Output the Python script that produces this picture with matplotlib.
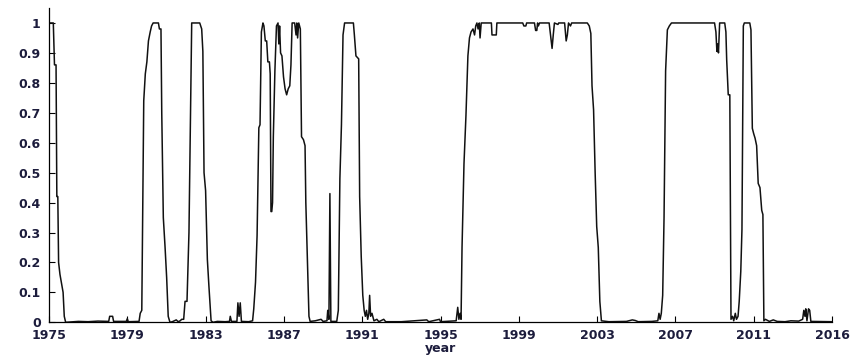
import numpy as np
import matplotlib
matplotlib.use('Agg')
import matplotlib.pyplot as plt

# regime probability, split by period (decimal year, value)
yr_a = [1975.00, 1975.22, 1975.28, 1975.36, 1975.40, 1975.45, 1975.49, 1975.56, 1975.64,
        1975.72, 1975.78, 1975.85, 1976.50, 1977.00, 1977.50, 1978.05, 1978.10, 1978.25,
        1978.30, 1978.95, 1979.00, 1979.05, 1979.60]
pr_a = [1.0, 1.0, 0.86, 0.86, 0.42, 0.42, 0.20, 0.16, 0.13,
        0.10, 0.02, 0.0, 0.003, 0.002, 0.004, 0.003, 0.02, 0.02,
        0.003, 0.003, 0.012, 0.002, 0.003]

yr_b = [1979.66, 1979.74, 1979.79, 1979.84, 1979.92, 1980.00, 1980.08, 1980.17, 1980.24,
        1980.32, 1980.59, 1980.64, 1980.72, 1980.76, 1980.84, 1980.93, 1981.01, 1981.09,
        1981.18, 1981.30, 1981.50, 1981.60, 1981.70, 1981.78, 1981.88, 1981.95, 1982.05,
        1982.15, 1982.29, 1982.70, 1982.80, 1982.86, 1982.92, 1983.00, 1983.09, 1983.17,
        1983.28, 1983.38]
pr_b = [0.03, 0.04, 0.39, 0.74, 0.83, 0.87, 0.94, 0.97, 0.99,
        1.0, 1.0, 0.98, 0.98, 0.70, 0.35, 0.25, 0.15, 0.02,
        0.0, 0.002, 0.008, 0.002, 0.005, 0.01, 0.01, 0.07, 0.07,
        0.30, 1.0, 1.0, 0.98, 0.905, 0.50, 0.44, 0.21, 0.12,
        0.005, 0.0]

yr_c = [1983.60, 1984.00, 1984.22, 1984.26, 1984.32, 1984.60, 1984.65, 1984.71, 1984.77,
        1984.83, 1985.20, 1985.40, 1985.46, 1985.55, 1985.63, 1985.72, 1985.78, 1985.85,
        1985.93, 1985.98, 1986.05, 1986.12, 1986.18, 1986.26, 1986.30, 1986.34, 1986.38,
        1986.42, 1986.46, 1986.54, 1986.62, 1986.70, 1986.74, 1986.78, 1986.83, 1986.90,
        1986.98, 1987.06, 1987.14, 1987.22, 1987.30, 1987.36, 1987.42, 1987.55, 1987.62,
        1987.66, 1987.70, 1987.76, 1987.84, 1987.90, 1988.00, 1988.08, 1988.12, 1988.20,
        1988.28, 1988.34]
pr_c = [0.003, 0.002, 0.003, 0.02, 0.003, 0.003, 0.065, 0.02, 0.065,
        0.003, 0.002, 0.005, 0.045, 0.134, 0.29, 0.65, 0.66, 0.97,
        1.0, 0.99, 0.94, 0.94, 0.87, 0.87, 0.83, 0.37, 0.37,
        0.40, 0.62, 0.84, 0.99, 1.0, 0.93, 0.99, 0.90, 0.89,
        0.82, 0.78, 0.76, 0.78, 0.79, 0.86, 1.0, 1.0, 0.96,
        1.0, 0.95, 1.0, 0.98, 0.62, 0.61, 0.59, 0.40, 0.21,
        0.02, 0.003]

yr_d = [1988.60, 1988.90, 1989.00, 1989.20, 1989.24, 1989.30, 1989.35, 1989.40, 1989.70,
        1989.78, 1989.86, 1989.94, 1990.02, 1990.10, 1990.55, 1990.60, 1990.68, 1990.82,
        1990.87, 1990.95, 1991.03, 1991.10, 1991.16, 1991.22, 1991.28, 1991.34, 1991.38,
        1991.43, 1991.50, 1991.60, 1991.75, 1991.85]
pr_d = [0.005, 0.01, 0.003, 0.005, 0.04, 0.01, 0.43, 0.003, 0.003,
        0.04, 0.48, 0.66, 0.96, 1.0, 1.0, 0.96, 0.89, 0.88,
        0.42, 0.22, 0.09, 0.04, 0.02, 0.04, 0.01, 0.03, 0.09,
        0.02, 0.03, 0.005, 0.01, 0.002]

yr_e = [1992.10, 1992.20, 1993.00, 1994.30, 1994.40, 1994.95, 1995.00, 1995.50, 1995.80,
        1995.88, 1995.94, 1996.00, 1996.05, 1996.10, 1996.20, 1996.30, 1996.40, 1996.48,
        1996.56, 1996.66, 1996.74, 1996.80, 1996.86, 1996.92, 1996.98, 1997.02, 1997.08,
        1997.60, 1997.63, 1997.85, 1997.88, 1999.20, 1999.26, 1999.36, 1999.40, 1999.80,
        1999.86, 1999.92, 1999.96, 2000.00, 2000.06, 2000.55, 2000.62, 2000.70, 2000.76,
        2000.82, 2001.00, 2001.04, 2001.34, 2001.42, 2001.48, 2001.54, 2001.64, 2001.70,
        2002.50, 2002.60, 2002.68, 2002.74, 2002.82, 2002.90, 2002.98, 2003.06, 2003.14,
        2003.22]
pr_e = [0.01, 0.002, 0.002, 0.008, 0.002, 0.01, 0.002, 0.004, 0.005,
        0.05, 0.01, 0.03, 0.01, 0.25, 0.53, 0.69, 0.89, 0.95,
        0.97, 0.98, 0.96, 0.99, 1.0, 0.98, 1.0, 0.95, 1.0,
        1.0, 0.96, 0.96, 1.0, 1.0, 0.99, 0.99, 1.0, 1.0,
        0.975, 0.975, 1.0, 0.99, 1.0, 1.0, 0.96, 0.915, 0.96,
        1.0, 0.995, 1.0, 1.0, 0.94, 0.96, 1.0, 0.99, 1.0,
        1.0, 0.99, 0.965, 0.79, 0.71, 0.50, 0.32, 0.25, 0.07,
        0.005]

yr_f = [2003.60, 2004.50, 2004.80, 2004.95, 2005.10, 2005.80, 2006.10, 2006.16, 2006.22,
        2006.28, 2006.35, 2006.42, 2006.50, 2006.59, 2006.69, 2006.80, 2009.00, 2009.07,
        2009.12, 2009.16, 2009.20, 2009.26, 2009.52, 2009.58, 2009.62, 2009.70, 2009.78,
        2009.84, 2009.92, 2009.98, 2010.06, 2010.12, 2010.20, 2010.26, 2010.34, 2010.40,
        2010.47, 2010.52, 2010.80, 2010.86, 2010.93, 2011.00, 2011.07, 2011.15, 2011.23,
        2011.32, 2011.41, 2011.47, 2011.52]
pr_f = [0.002, 0.003, 0.008, 0.006, 0.002, 0.003, 0.005, 0.03, 0.01,
        0.03, 0.09, 0.35, 0.84, 0.977, 0.99, 1.0, 1.0, 0.97,
        0.905, 0.93, 0.90, 1.0, 1.0, 0.97, 0.877, 0.76, 0.76,
        0.01, 0.02, 0.005, 0.03, 0.01, 0.02, 0.07, 0.17, 0.31,
        0.99, 1.0, 1.0, 0.977, 0.648, 0.63, 0.615, 0.59, 0.464,
        0.45, 0.374, 0.36, 0.005]

yr_g = [2011.60, 2011.80, 2012.00, 2012.20, 2012.60, 2012.90, 2013.30, 2013.50, 2013.56,
        2013.62, 2013.66, 2013.72, 2013.80, 2013.86, 2013.92, 2015.00]
pr_g = [0.01, 0.003, 0.008, 0.003, 0.002, 0.005, 0.004, 0.01, 0.04,
        0.02, 0.045, 0.005, 0.045, 0.04, 0.003, 0.002]

tick_years = [1975, 1979, 1983, 1987, 1991, 1995, 1999, 2003, 2007, 2011, 2015]
tick_labels = ['1975', '1979', '1983', '1987', '1991', '1995', '1999', '2003', '2007', '2011', '2016']
y_ticks = [0, 0.1, 0.2, 0.3, 0.4, 0.5, 0.6, 0.7, 0.8, 0.9, 1]
y_labels = ['0', '0.1', '0.2', '0.3', '0.4', '0.5', '0.6', '0.7', '0.8', '0.9', '1']

year = np.concatenate([yr_a, yr_b, yr_c, yr_d, yr_e, yr_f, yr_g])
prob = np.concatenate([pr_a, pr_b, pr_c, pr_d, pr_e, pr_f, pr_g])

plt.rcParams['font.family'] = ['DejaVu Sans']
txt_col = '#1c1c3c'

fig = plt.figure(figsize=(8.58, 3.58), dpi=100)
ax = fig.add_axes([49 / 858, (358 - 322.3) / 358, (832 - 49) / 858, (322.3 - 8) / 358])
ax.plot(year, prob, color='#111111', lw=1.1)

ax.set_xlim(1975, 2015)
ax.set_ylim(0, 1.05)
ax.set_xticks(tick_years)
ax.set_xticklabels(tick_labels)
ax.set_yticks(y_ticks)
ax.set_yticklabels(y_labels)
ax.tick_params(direction='in', length=4.5, width=0.8, color='black',
               labelsize=9, labelcolor=txt_col)
ax.tick_params(axis='x', pad=4.5)
ax.tick_params(axis='y', pad=6)
for lab in ax.get_xticklabels() + ax.get_yticklabels():
    lab.set_fontweight('bold')

for s in ['top', 'right']:
    ax.spines[s].set_visible(False)
for s in ['left', 'bottom']:
    ax.spines[s].set_linewidth(0.9)
    ax.spines[s].set_color('black')

ax.set_xlabel('year', fontsize=9, fontweight='bold', color=txt_col, labelpad=0)

fig.savefig('out.png', dpi=100)
